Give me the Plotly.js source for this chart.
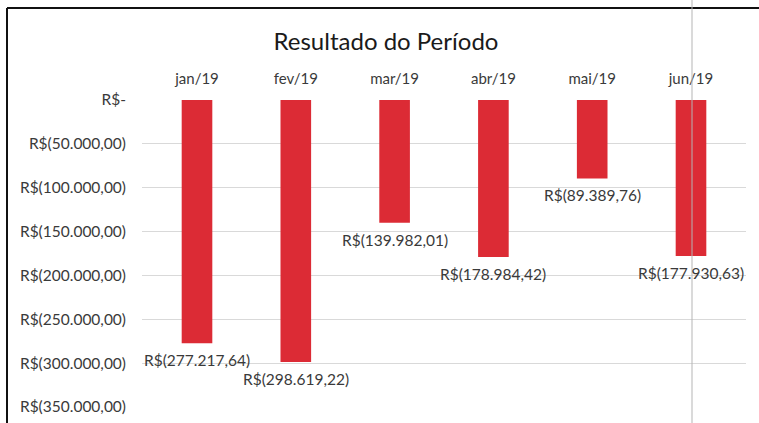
<!DOCTYPE html>
<html>
<head>
<meta charset="utf-8">
<script src="https://cdn.plot.ly/plotly-3.0.1.min.js"></script>
<style>
html,body{margin:0;padding:0;background:#fff;}
#chart{width:759px;height:423px;}
</style>
</head>
<body>
<div id="chart"></div>
<script>
const months = ["jan/19", "fev/19", "mar/19", "abr/19", "mai/19", "jun/19"];
const results = [-277217.64, -298619.22, -139982.01, -178984.42, -89389.76, -177930.63];
const yTickValues = [0, -50000, -100000, -150000, -200000, -250000, -300000, -350000];

function brl(v) {
  if (v === 0) return "R$-";
  const abs = Math.abs(v);
  const parts = abs.toFixed(2).split(".");
  const intPart = parts[0].replace(/\B(?=(\d{3})+(?!\d))/g, ".");
  const s = intPart + "," + parts[1];
  return v < 0 ? "R$(" + s + ")" : "R$" + s;
}

const font = "Lato, 'Open Sans', sans-serif";
const textColor = "#3a3a3a";
const L = 142, R = 13, T = 100, B = 16;
const PW = 759 - L - R, PH = 423 - T - B;

const trace = {
  type: "bar",
  x: months,
  y: results,
  marker: {color: "#dc2b35"},
  width: 0.31,
  cliponaxis: false,
  hoverinfo: "skip"
};

const labelAnnotations = months.map((m, i) => ({
  x: m, y: results[i], xref: "x", yref: "y",
  text: brl(results[i]),
  showarrow: false,
  xanchor: "center", yanchor: "top",
  yshift: -6,
  font: {family: font, size: 15.5, color: textColor}
}));

const layout = {
  width: 759, height: 423,
  margin: {l: L, r: R, t: T, b: B},
  paper_bgcolor: "#fff",
  plot_bgcolor: "#fff",
  showlegend: false,
  title: {
    text: "Resultado do Período",
    font: {family: font, size: 24, color: "#1a1a1a"},
    x: 386/759, xref: "container", xanchor: "center",
    y: 1 - 42/423, yref: "container", yanchor: "middle"
  },
  xaxis: {
    side: "top",
    showgrid: false,
    showline: false,
    ticks: "",
    tickfont: {family: font, size: 15, color: textColor},
    ticklabelstandoff: 12
  },
  yaxis: {
    range: [-350000, 0],
    tickvals: yTickValues,
    ticktext: yTickValues.map(brl),
    tickfont: {family: font, size: 15.5, color: textColor},
    showgrid: true,
    gridcolor: "#d9d9d9",
    gridwidth: 1,
    zeroline: false,
    showline: false,
    ticks: "",
    ticklabelstandoff: 15
  },
  annotations: labelAnnotations,
  shapes: [
    {type: "line", xref: "paper", yref: "paper",
     x0: (7-L)/PW, x1: (759-L)/PW, y0: (423-B-8)/PH, y1: (423-B-8)/PH,
     line: {color: "#111", width: 2}},
    {type: "line", xref: "paper", yref: "paper",
     x0: (7-L)/PW, x1: (7-L)/PW, y0: (423-B-8)/PH, y1: -B/PH,
     line: {color: "#111", width: 2}},
    {type: "line", xref: "paper", yref: "paper",
     x0: (692-L)/PW, x1: (692-L)/PW, y0: (423-B)/PH, y1: -B/PH,
     line: {color: "#b5b5b5", width: 1}}
  ]
};

Plotly.newPlot("chart", [trace], layout, {displayModeBar: false, staticPlot: true});
</script>
</body>
</html>
